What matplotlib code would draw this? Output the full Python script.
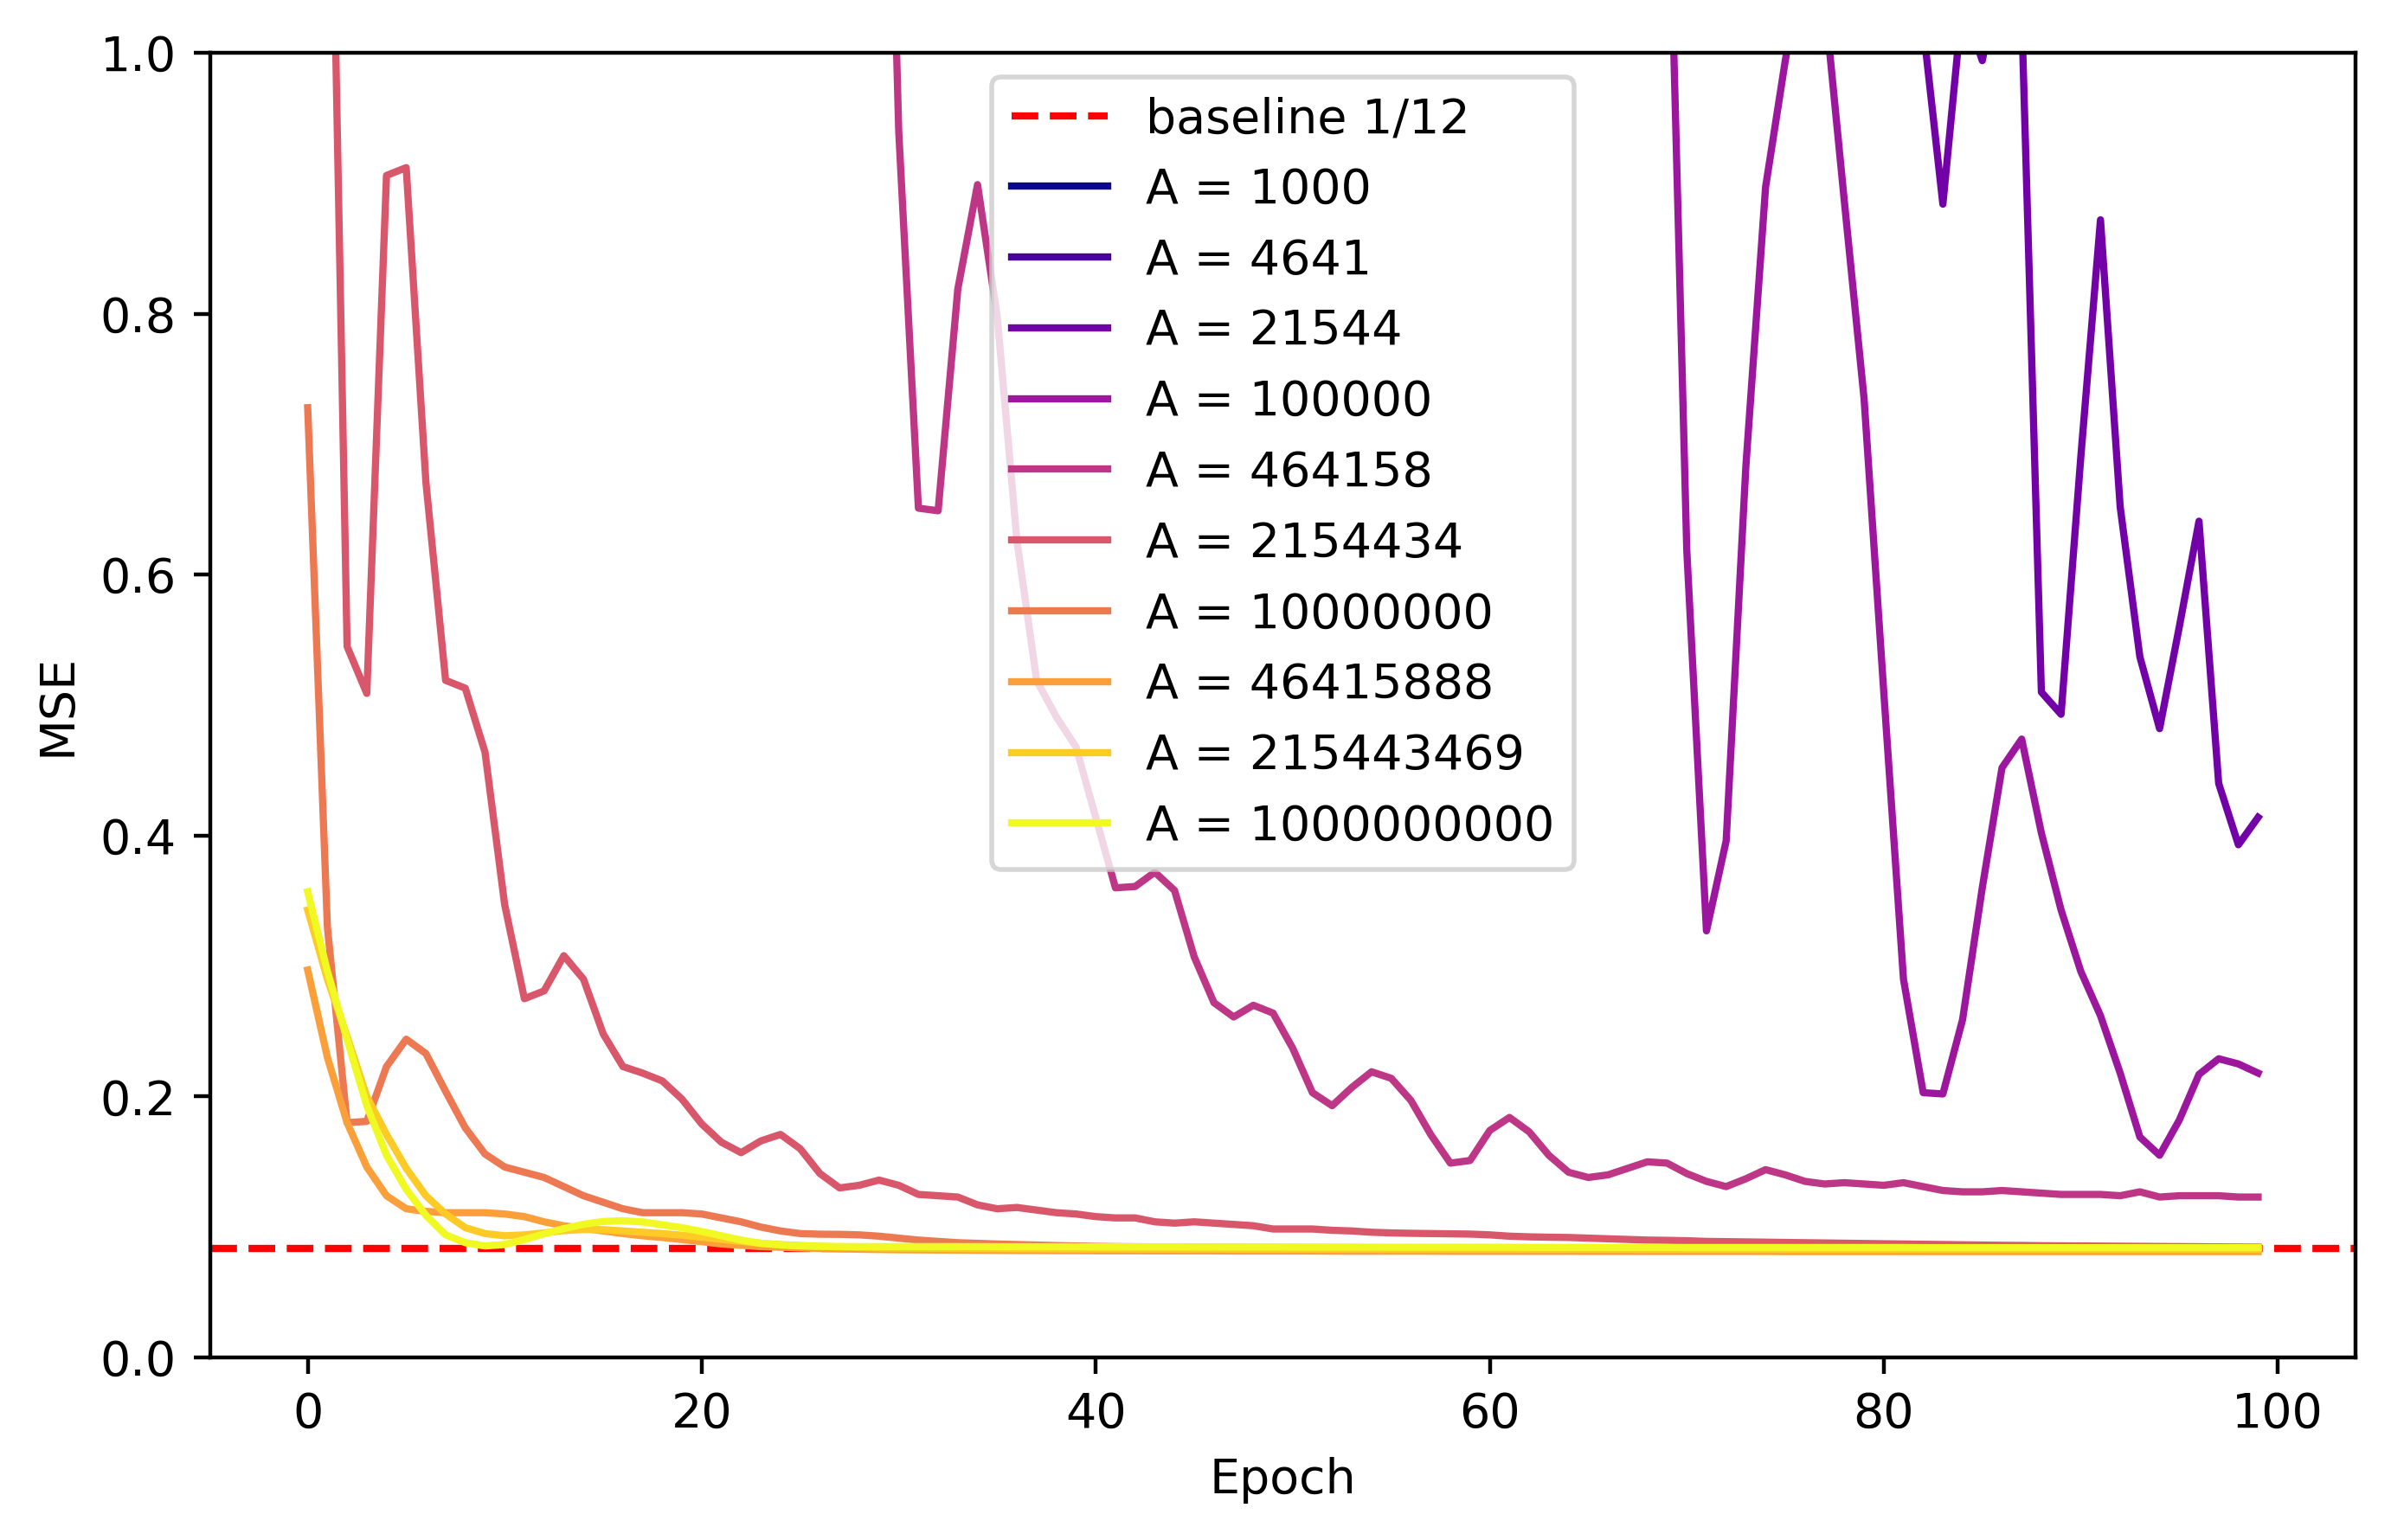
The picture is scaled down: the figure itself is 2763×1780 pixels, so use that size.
import numpy as np
import matplotlib
matplotlib.use("Agg")
import matplotlib.pyplot as plt

A_values = [1000, 4641, 21544, 100000, 464158, 2154434,
            10000000, 46415888, 215443469, 1000000000]
epochs = np.arange(100)
baseline = 1 / 12

# MSE per epoch for each A (values above 1.0 lie outside the plotted range)
mse_1000 = [96.1, 88.4, 90.2, 84.7, 80.3, 82.9, 77.5, 74.1, 75.8, 70.6,
            68.2, 69.9, 65.3, 63.0, 64.4, 60.8, 58.5, 59.7, 56.1, 54.3,
            55.6, 52.2, 50.4, 51.3, 48.7, 47.2, 48.0, 45.5, 44.1, 44.9,
            42.6, 41.3, 42.0, 39.8, 38.7, 39.4, 37.2, 36.3, 36.9, 34.8,
            33.9, 34.5, 32.6, 31.8, 32.3, 30.5, 29.8, 30.2, 28.6, 27.9,
            28.4, 26.8, 26.2, 26.6, 25.1, 24.6, 25.0, 23.5, 23.0, 23.4,
            22.1, 21.6, 22.0, 20.7, 20.3, 20.6, 19.4, 19.0, 19.3, 18.2,
            17.9, 18.1, 17.1, 16.8, 17.0, 16.1, 15.8, 16.0, 15.1, 14.9,
            15.0, 14.2, 14.0, 14.1, 13.4, 13.2, 13.3, 12.6, 12.4, 12.5,
            11.9, 11.7, 11.8, 11.2, 11.0, 11.1, 10.6, 10.4, 10.5, 10.0]

mse_4641 = [41.2, 37.5, 38.9, 35.0, 32.8, 33.9, 30.6, 28.9, 29.7, 27.1,
            25.8, 26.4, 24.0, 22.9, 23.5, 21.4, 20.5, 21.0, 19.2, 18.4,
            18.9, 17.2, 16.5, 16.9, 15.4, 14.8, 15.2, 13.9, 13.3, 13.7,
            12.5, 12.0, 12.3, 11.2, 10.8, 11.1, 10.1, 9.7, 9.9, 9.1,
            8.8, 9.0, 8.2, 7.9, 8.1, 7.4, 7.1, 7.3, 6.7, 6.4,
            6.6, 6.0, 5.8, 5.9, 5.4, 5.2, 5.3, 4.9, 4.7, 4.8,
            4.4, 4.3, 4.4, 4.0, 3.9, 4.0, 3.7, 3.6, 3.6, 3.4,
            3.3, 3.4, 3.1, 3.0, 3.1, 2.9, 2.8, 2.8, 2.7, 2.6,
            2.6, 2.5, 2.4, 2.5, 2.3, 2.3, 2.3, 2.2, 2.1, 2.2,
            2.0, 2.0, 2.0, 1.9, 1.9, 1.9, 1.8, 1.8, 1.8, 1.7]

mse_21544 = [22.4, 20.1, 20.8, 18.6, 17.3, 17.9, 16.0, 15.1, 15.5, 14.0,
             13.2, 13.6, 12.3, 11.6, 11.9, 10.8, 10.2, 10.5, 9.5, 9.0,
             9.2, 8.4, 8.0, 8.2, 7.5, 7.1, 7.3, 6.7, 6.4, 6.5,
             6.0, 5.7, 5.8, 5.3, 5.1, 5.2, 4.8, 4.6, 4.7, 4.3,
             4.1, 4.2, 3.9, 3.7, 3.8, 3.5, 3.3, 3.4, 3.1, 3.0,
             3.1, 2.8, 2.7, 2.8, 2.6, 2.5, 2.5, 2.3, 2.2, 2.3,
             2.1, 2.0, 2.1, 1.9, 1.85, 1.9, 1.75, 1.7, 1.72, 1.6,
             1.55, 1.6, 1.5, 1.45, 1.48, 1.4, 1.35, 1.38, 1.3, 1.25,
             1.28, 1.2, 1.02, 0.884, 1.04, 0.994, 1.07, 1.03, 0.510, 0.493,
             0.69, 0.872, 0.652, 0.537, 0.482, 0.56, 0.641, 0.440, 0.393, 0.414]

mse_100000 = [11.8, 10.6, 11.0, 9.8, 9.1, 9.4, 8.5, 8.0, 8.2, 7.4,
              7.0, 7.2, 6.5, 6.1, 6.3, 5.7, 5.4, 5.5, 5.0, 4.8,
              4.9, 4.4, 4.2, 4.3, 3.9, 3.7, 3.8, 3.5, 3.3, 3.4,
              3.1, 3.0, 3.05, 2.8, 2.7, 2.75, 2.5, 2.4, 2.45, 2.3,
              2.2, 2.25, 2.1, 2.0, 2.05, 1.9, 1.85, 1.88, 1.75, 1.7,
              1.72, 1.62, 1.58, 1.6, 1.5, 1.46, 1.48, 1.4, 1.36, 1.38,
              1.32, 1.28, 1.3, 1.24, 1.21, 1.23, 1.18, 1.15, 1.22, 1.2,
              0.619, 0.327, 0.396, 0.683, 0.897, 0.994, 1.08, 1.04, 0.886, 0.735,
              0.510, 0.290, 0.203, 0.202, 0.259, 0.360, 0.452, 0.474, 0.402, 0.343,
              0.296, 0.262, 0.218, 0.169, 0.155, 0.182, 0.217, 0.229, 0.225, 0.218]

mse_464158 = [5.2, 4.6, 4.8, 4.2, 3.9, 4.0, 3.6, 3.3, 3.4, 3.1,
              2.9, 3.0, 2.7, 2.5, 2.6, 2.35, 2.2, 2.25, 2.05, 1.95,
              2.0, 1.85, 1.75, 1.8, 1.66, 1.58, 1.62, 1.52, 1.45, 1.5,
              0.94, 0.651, 0.649, 0.819, 0.899, 0.798, 0.626, 0.519, 0.491, 0.468,
              0.414, 0.360, 0.361, 0.372, 0.358, 0.307, 0.272, 0.261, 0.270, 0.264,
              0.237, 0.203, 0.193, 0.207, 0.219, 0.214, 0.197, 0.171, 0.149, 0.151,
              0.174, 0.184, 0.173, 0.155, 0.142, 0.138, 0.140, 0.145, 0.150, 0.149,
              0.141, 0.135, 0.131, 0.137, 0.144, 0.140, 0.135, 0.133, 0.134, 0.133,
              0.132, 0.134, 0.131, 0.128, 0.127, 0.127, 0.128, 0.127, 0.126, 0.125,
              0.125, 0.125, 0.124, 0.127, 0.123, 0.124, 0.124, 0.124, 0.123, 0.123]

mse_2154434 = [2.10, 1.34, 0.545, 0.509, 0.906, 0.912, 0.671, 0.519, 0.513, 0.464,
               0.347, 0.275, 0.281, 0.308, 0.290, 0.248, 0.223, 0.218, 0.212, 0.198,
               0.179, 0.165, 0.157, 0.166, 0.171, 0.160, 0.141, 0.130, 0.132, 0.136,
               0.132, 0.125, 0.124, 0.123, 0.117, 0.114, 0.115, 0.113, 0.111, 0.110,
               0.108, 0.107, 0.107, 0.104, 0.103, 0.104, 0.103, 0.102, 0.101, 0.0985,
               0.0985, 0.0985, 0.0975, 0.097, 0.096, 0.0955, 0.0952, 0.095, 0.0948, 0.0946,
               0.094, 0.093, 0.0925, 0.0922, 0.092, 0.0915, 0.091, 0.0905, 0.090, 0.0898,
               0.0895, 0.089, 0.0888, 0.0886, 0.0884, 0.0882, 0.088, 0.0878, 0.0876, 0.0874,
               0.0872, 0.087, 0.0868, 0.0866, 0.0864, 0.0862, 0.086, 0.0859, 0.0857, 0.0856,
               0.0855, 0.0854, 0.0853, 0.0852, 0.0851, 0.085, 0.0849, 0.0848, 0.0847, 0.0846]

mse_10000000 = [0.728, 0.330, 0.180, 0.181, 0.223, 0.244, 0.233, 0.204, 0.176, 0.156,
                0.146, 0.142, 0.138, 0.131, 0.124, 0.119, 0.114, 0.111, 0.111, 0.111,
                0.110, 0.107, 0.104, 0.100, 0.097, 0.095, 0.0945, 0.0944, 0.094, 0.093,
                0.0915, 0.090, 0.089, 0.088, 0.0875, 0.087, 0.0866, 0.0862, 0.0858, 0.0855,
                0.0852, 0.0850, 0.0849, 0.0848, 0.0847, 0.0846, 0.0845, 0.0845, 0.0844, 0.0844,
                0.0843, 0.0843, 0.0842, 0.0842, 0.0841, 0.0841, 0.0841, 0.0840, 0.0840, 0.0840,
                0.0839, 0.0839, 0.0839, 0.0839, 0.0838, 0.0838, 0.0838, 0.0838, 0.0837, 0.0837,
                0.0837, 0.0837, 0.0837, 0.0836, 0.0836, 0.0836, 0.0836, 0.0836, 0.0836, 0.0835,
                0.0835, 0.0835, 0.0835, 0.0835, 0.0835, 0.0835, 0.0835, 0.0835, 0.0835, 0.0835,
                0.0835, 0.0835, 0.0834, 0.0834, 0.0834, 0.0834, 0.0834, 0.0834, 0.0834, 0.0834]

mse_46415888 = [0.297, 0.230, 0.180, 0.146, 0.124, 0.114, 0.112, 0.111, 0.111, 0.111,
                0.110, 0.108, 0.104, 0.101, 0.099, 0.097, 0.095, 0.0933, 0.092, 0.0904,
                0.0888, 0.087, 0.086, 0.085, 0.0845, 0.084, 0.0836, 0.0833, 0.083, 0.0828,
                0.0826, 0.0825, 0.0824, 0.0823, 0.0822, 0.0821, 0.0820, 0.0820, 0.0819, 0.0819,
                0.0818, 0.0818, 0.0818, 0.0817, 0.0817, 0.0817, 0.0817, 0.0816, 0.0816, 0.0816,
                0.0816, 0.0816, 0.0815, 0.0815, 0.0815, 0.0815, 0.0815, 0.0815, 0.0814, 0.0814,
                0.0814, 0.0814, 0.0814, 0.0814, 0.0814, 0.0813, 0.0813, 0.0813, 0.0813, 0.0813,
                0.0813, 0.0813, 0.0813, 0.0813, 0.0813, 0.0812, 0.0812, 0.0812, 0.0812, 0.0812,
                0.0812, 0.0812, 0.0812, 0.0812, 0.0812, 0.0812, 0.0812, 0.0812, 0.0812, 0.0812,
                0.0812, 0.0812, 0.0812, 0.0812, 0.0812, 0.0812, 0.0812, 0.0812, 0.0812, 0.0812]

mse_215443469 = [0.343, 0.290, 0.246, 0.200, 0.171, 0.145, 0.124, 0.110, 0.0995, 0.095,
                 0.0933, 0.094, 0.0955, 0.0973, 0.0981, 0.098, 0.097, 0.096, 0.095, 0.0937,
                 0.0922, 0.0906, 0.089, 0.0875, 0.0865, 0.0858, 0.0852, 0.0847, 0.0843, 0.0840,
                 0.0838, 0.0837, 0.0836, 0.0835, 0.0834, 0.0834, 0.0833, 0.0833, 0.0832, 0.0832,
                 0.0832, 0.0832, 0.0831, 0.0831, 0.0831, 0.0831, 0.0831, 0.0830, 0.0830, 0.0830,
                 0.0830, 0.0830, 0.0830, 0.0830, 0.0830, 0.0829, 0.0829, 0.0829, 0.0829, 0.0829,
                 0.0829, 0.0829, 0.0829, 0.0829, 0.0829, 0.0829, 0.0829, 0.0829, 0.0828, 0.0828,
                 0.0828, 0.0828, 0.0828, 0.0828, 0.0828, 0.0828, 0.0828, 0.0828, 0.0828, 0.0828,
                 0.0828, 0.0828, 0.0828, 0.0828, 0.0828, 0.0828, 0.0828, 0.0828, 0.0828, 0.0828,
                 0.0828, 0.0828, 0.0828, 0.0828, 0.0828, 0.0828, 0.0828, 0.0828, 0.0828, 0.0828]

mse_1000000000 = [0.357, 0.296, 0.244, 0.193, 0.155, 0.129, 0.109, 0.094, 0.088, 0.0855,
                  0.0866, 0.0904, 0.0948, 0.0988, 0.1021, 0.1043, 0.1048, 0.1039, 0.1017, 0.0995,
                  0.0966, 0.0933, 0.0900, 0.0875, 0.0862, 0.0855, 0.0852, 0.0851, 0.0850, 0.0850,
                  0.0850, 0.0850, 0.0850, 0.0850, 0.0850, 0.0849, 0.0849, 0.0849, 0.0849, 0.0849,
                  0.0848, 0.0848, 0.0848, 0.0848, 0.0848, 0.0847, 0.0847, 0.0847, 0.0847, 0.0847,
                  0.0846, 0.0846, 0.0846, 0.0846, 0.0846, 0.0845, 0.0845, 0.0845, 0.0845, 0.0845,
                  0.0845, 0.0845, 0.0844, 0.0844, 0.0844, 0.0844, 0.0844, 0.0844, 0.0844, 0.0844,
                  0.0843, 0.0843, 0.0843, 0.0843, 0.0843, 0.0843, 0.0843, 0.0843, 0.0843, 0.0843,
                  0.0843, 0.0843, 0.0842, 0.0842, 0.0842, 0.0842, 0.0842, 0.0842, 0.0842, 0.0842,
                  0.0842, 0.0842, 0.0842, 0.0842, 0.0842, 0.0842, 0.0842, 0.0842, 0.0842, 0.0842]

all_mse = [mse_1000, mse_4641, mse_21544, mse_100000, mse_464158, mse_2154434,
           mse_10000000, mse_46415888, mse_215443469, mse_1000000000]

fig = plt.figure(figsize=(2763 / 400, 1780 / 400), dpi=400)
ax = fig.add_axes([0.0879, 0.1185, 0.9852 - 0.0879, 0.9657 - 0.1185])

ax.axhline(baseline, color='red', linestyle='--', linewidth=1.5, label='baseline 1/12')

colors = plt.cm.plasma(np.linspace(0, 1, len(A_values)))
for A, mse, c in zip(A_values, all_mse, colors):
    ax.plot(epochs, mse, color=c, linewidth=1.5, label=f'A = {A}')

ax.set_ylim(0, 1)
ax.set_xlabel('Epoch')
ax.set_ylabel('MSE')
ax.legend(loc='upper center')

fig.savefig('out.png', dpi=400)
